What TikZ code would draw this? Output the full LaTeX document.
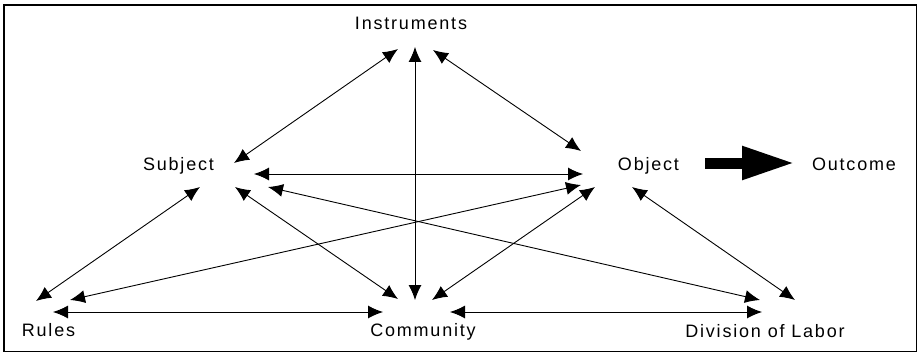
\documentclass[tikz,border=0pt]{standalone}
\usepackage{fontspec}
\newfontfamily\diagfont[LetterSpace=10]{Liberation Sans}
\usepackage{tikz}
\usetikzlibrary{arrows, positioning, shapes}
\usetikzlibrary{arrows.meta}

\tikzset{
  lbl/.style={font={\fontsize{18}{20}\diagfont}, anchor=base, inner sep=0pt},
  link/.style={line width=0.9pt, {Latex[length=15pt,width=13pt]}-{Latex[length=15pt,width=13pt]}}
}

\begin{document}
\begin{tikzpicture}[x=1pt, y=-1pt]
\useasboundingbox (0,0) rectangle (918,353);
% The frame
\draw[line width=0.8pt] (4,5) rectangle (916.5,351.5);
\draw[line width=2pt] (4,351.5) -- (4,5) -- (916.5,5);

% The labels
\node[lbl] (instr) at (411,30) {Instruments};
\node[lbl] (subj) at (178.5,170.7) {Subject};
\node[lbl] (obj) at (648.5,170.7) {Object};
\node[lbl] (outc) at (854,170.7) {Outcome};
\node[lbl] (rules) at (48.5,336.7) {Rules};
\node[lbl] (comm) at (423,336.7) {Community};
\node[lbl] (divl) at (765,337) {Division of Labor};

% The ports
\coordinate (iS) at (398,49);  \coordinate (iC) at (415,47);  \coordinate (iO) at (433,50);
\coordinate (sI) at (234,163); \coordinate (sO) at (254,174); \coordinate (sR) at (200,187);
\coordinate (sC) at (235,187); \coordinate (sD) at (268,187);
\coordinate (oI) at (581,151); \coordinate (oS) at (583,174); \coordinate (oR) at (581,185);
\coordinate (oC) at (595,187); \coordinate (oD) at (632,187);
\coordinate (rS) at (36,301);  \coordinate (rO) at (70,300);  \coordinate (rC) at (53,312);
\coordinate (cR) at (383,312); \coordinate (cS) at (398,299); \coordinate (cI) at (415,300);
\coordinate (cO) at (432,300); \coordinate (cD) at (450,312);
\coordinate (dS) at (760,300); \coordinate (dO) at (795,300); \coordinate (dC) at (762,312);
\coordinate (oOut) at (705,163); \coordinate (outIn) at (795,163);

% The links
\draw[link] (iS) -- (sI);
\draw[link] (iO) -- (oI);
\draw[link] (iC) -- (cI);
\draw[link] (sO) -- (oS);
\draw[link] (sR) -- (rS);
\draw[link] (sC) -- (cS);
\draw[link] (sD) -- (dS);
\draw[link] (oR) -- (rO);
\draw[link] (oC) -- (cO);
\draw[link] (oD) -- (dO);
\draw[link] (rC) -- (cR);
\draw[link] (cD) -- (dC);
\draw[line width=11pt, -{Triangle[length=53pt,width=31pt]}] (oOut) -- (outIn);
\end{tikzpicture}
\end{document}
